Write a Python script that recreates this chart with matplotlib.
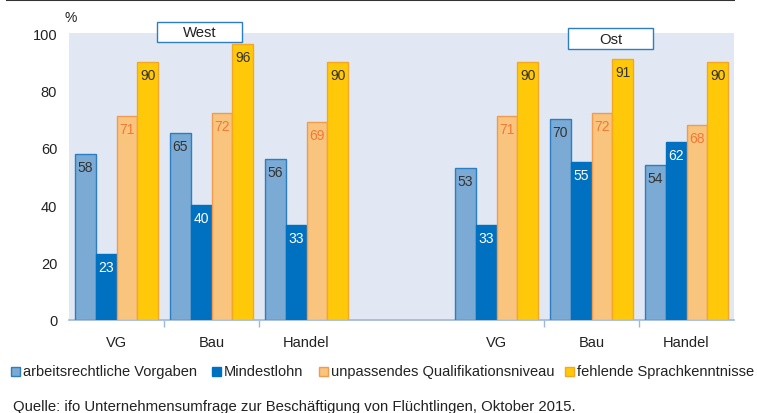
import matplotlib
matplotlib.use("Agg")
import matplotlib.pyplot as plt
from matplotlib.patches import Rectangle
from matplotlib.lines import Line2D
import numpy as np

plt.rcParams['font.family'] = ['Liberation Sans', 'DejaVu Sans']

categories = ["VG", "Bau", "Handel", "VG", "Bau", "Handel"]
regions = ["West", "Ost"]
series_names = ["arbeitsrechtliche Vorgaben", "Mindestlohn",
                "unpassendes Qualifikationsniveau", "fehlende Sprachkenntnisse"]
arbeitsrecht = [58, 65, 56, 53, 70, 54]
mindestlohn = [23, 40, 33, 33, 55, 62]
qualifikation = [71, 72, 69, 71, 72, 68]
sprache = [90, 96, 90, 90, 91, 90]
y_ticks = [0, 20, 40, 60, 80, 100]
source = "Quelle: ifo Unternehmensumfrage zur Beschäftigung von Flüchtlingen, Oktober 2015."

series = [arbeitsrecht, mindestlohn, qualifikation, sprache]
faces = ["#7BAAD4", "#0070C0", "#F9C47E", "#FFC90A"]
edges = ["#2C7DC3", "#0070C0", "#F29A4E", "#F5A623"]
txtcol = ["#333333", "#FFFFFF", "#F07A35", "#333333"]

W, H = 757, 414
fig = plt.figure(figsize=(W/100, H/100), dpi=100)
ax = fig.add_axes([69/W, 1-321/H, (734-69)/W, (321-34)/H])
ax.set_facecolor("#E1E8F4")

pos = np.array([0, 1, 2, 4, 5, 6], dtype=float)
bw = 0.218
for i, (vals, fc, ec, tc) in enumerate(zip(series, faces, edges, txtcol)):
    x = pos + (i - 1.5) * bw
    ax.bar(x, vals, width=bw, color=fc, edgecolor=ec, linewidth=1.0, zorder=3)
    for xi, v in zip(x, vals):
        ax.annotate(f"{v}", (xi, v), xytext=(0, -13), textcoords="offset pixels",
                    ha="center", va="center", fontsize=10, color=tc, zorder=4)

ax.set_xlim(-0.5, 6.5)
ax.set_ylim(0, 100)
ax.set_yticks(y_ticks)
ax.set_yticklabels([str(t) for t in y_ticks], fontsize=10.5, color="#222222")
ax.tick_params(axis="y", length=0, pad=8.5)
ax.set_xticks(pos)
ax.set_xticklabels(categories, fontsize=10.5, color="#222222")
ax.tick_params(axis="x", length=0, pad=10.5)
ax.set_xticks([0.5, 1.5, 4.5, 5.5], minor=True)
ax.tick_params(axis="x", which="minor", length=5, width=1, color="#9DB8DC")
for s in ["top", "right", "left"]:
    ax.spines[s].set_visible(False)
ax.spines["bottom"].set_color("#9DB8DC")
ax.spines["bottom"].set_linewidth(1.2)

# % label
fig.text(71/W, 1-18/H, "%", fontsize=10, ha="center", va="center", color="#222222")

# region boxes
def box(x0, y0, x1, y1, label):
    fig.patches.append(Rectangle((x0/W, 1-y1/H), (x1-x0)/W, (y1-y0)/H,
                                 transform=fig.transFigure, facecolor="white",
                                 edgecolor="#2C7DC3", linewidth=1.0, zorder=5))
    fig.text((x0+x1)/2/W, 1-(y0+y1)/2/H, label, ha="center", va="center",
             fontsize=10.7, color="#222222", zorder=6)
box(157, 23, 242, 43, regions[0])
box(568, 29, 653, 50, regions[1])

# top line
fig.add_artist(Line2D([7/W, 734/W], [1-1/H, 1-1/H], color="#333333", linewidth=1.5))

# legend (manual layout)
leg_x = [11, 212, 319, 565]
leg_y = 372
for lx, name, fc, ec in zip(leg_x, series_names, faces, edges):
    fig.patches.append(Rectangle((lx/W, 1-(leg_y+4.5)/H), 9/W, 9/H,
                                 transform=fig.transFigure, facecolor=fc,
                                 edgecolor=ec, linewidth=1.0))
    fig.text((lx+12)/W, 1-leg_y/H, name, fontsize=10.5, ha="left", va="center",
             color="#222222")

fig.text(13/W, 1-407/H, source, fontsize=10.75, ha="left", va="center", color="#222222")

fig.savefig("out.png", dpi=100)
